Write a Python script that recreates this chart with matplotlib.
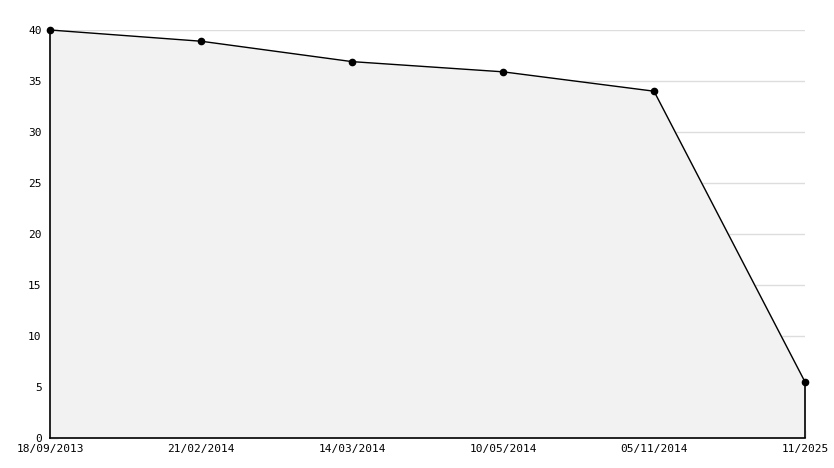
import matplotlib
matplotlib.use("Agg")
import matplotlib.pyplot as plt
from matplotlib.ticker import MultipleLocator

labels = ["18/09/2013", "21/02/2014", "14/03/2014", "10/05/2014", "05/11/2014", "11/2025"]
values = [40.0, 38.9, 36.9, 35.9, 34.0, 5.5]

plt.rcParams['font.family'] = ['DejaVu Sans Mono']
fig = plt.figure(figsize=(8.34, 4.68), dpi=100)
ax = fig.add_axes([50/834, 30/468, 755/834, 408/468])
x = list(range(len(values)))
ax.fill_between(x, values, 0, color="#f2f2f2", zorder=1)
ax.plot(x, values, color="black", lw=1, marker="o", ms=4.5, zorder=4, clip_on=False)
ax.vlines(x[-1], 0, values[-1], color="black", lw=1.2, zorder=4, clip_on=False)
ax.set_xlim(0, len(values) - 1)
ax.set_ylim(0, 40)
ax.yaxis.set_major_locator(MultipleLocator(5))
ax.yaxis.set_minor_locator(MultipleLocator(1))
ax.set_xticks(x)
ax.set_xticklabels(labels)
ax.grid(axis="y", which="major", color="#dddddd", lw=1, zorder=0)
ax.set_axisbelow(True)
for s in ["top", "right"]:
    ax.spines[s].set_visible(False)
for s in ["left", "bottom"]:
    ax.spines[s].set_linewidth(1.2)
    ax.spines[s].set_zorder(3)
ax.tick_params(axis="y", which="major", direction="in", length=6, labelsize=8, pad=6)
ax.tick_params(axis="y", which="minor", direction="in", length=3)
ax.tick_params(axis="x", direction="in", length=6, labelsize=8, pad=4)
fig.savefig("out.png", dpi=100, facecolor="white")
